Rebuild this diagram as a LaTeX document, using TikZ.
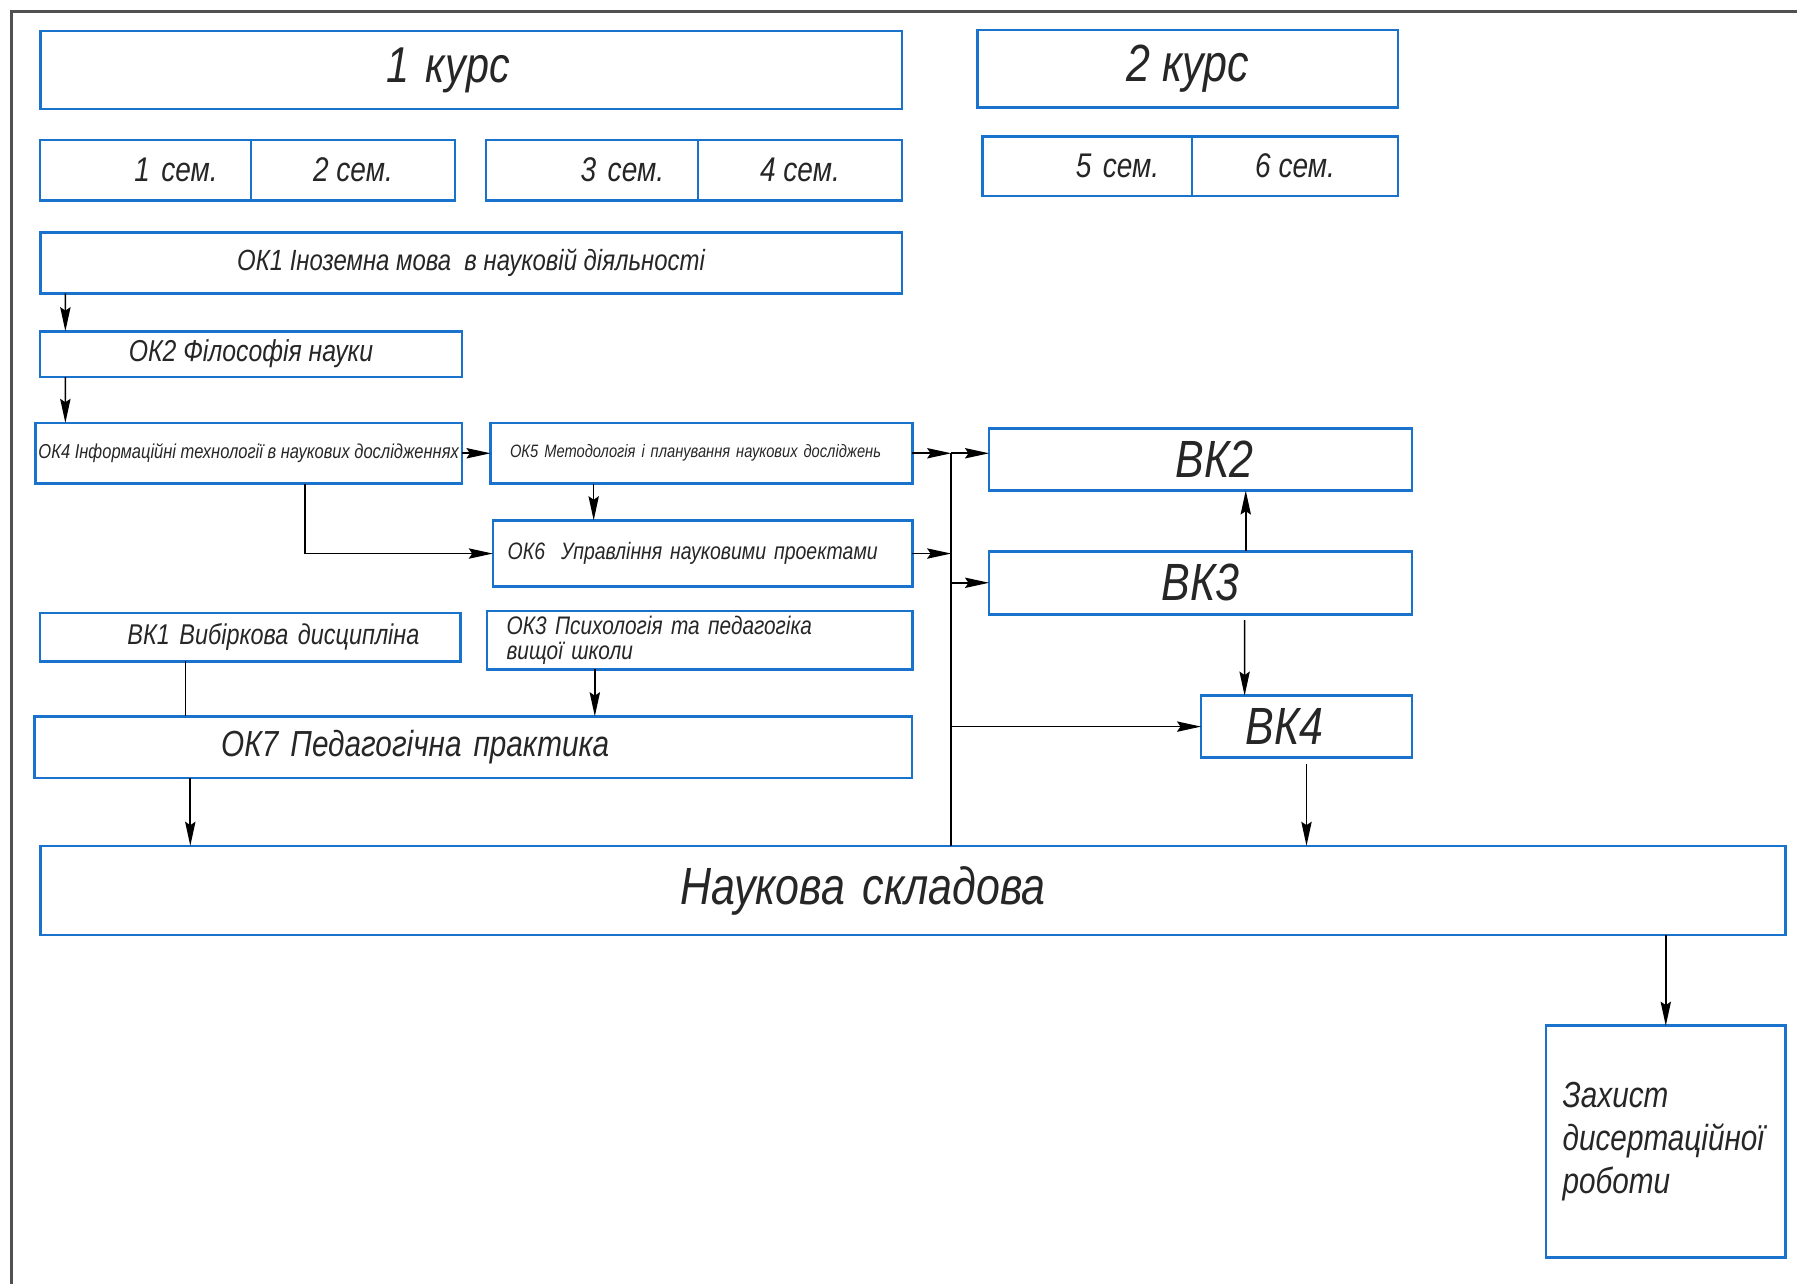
\documentclass[tikz,border=0pt]{standalone}
\usepackage{fontspec}
\setmainfont{Liberation Sans}[FakeStretch=0.82]
\usetikzlibrary{positioning,arrows.meta}

\definecolor{boxblue}{RGB}{25,115,205}
\definecolor{framegray}{RGB}{80,80,80}
\newcommand{\fz}[1]{\fontsize{#1}{#1}\selectfont\itshape}

\tikzset{
  box/.style={draw=boxblue,line width=1.3pt,inner sep=0pt,outer sep=0pt,text=black!85},
  semleft/.style={box,minimum height=1.06cm,text width=2.52cm,align=right,font=\fz{17}},
  semright/.style={box,minimum height=1.06cm,font=\fz{17}},
  link/.style={->,line width=0.8pt},
}

\begin{document}
\begin{tikzpicture}[x=0.02cm,y=-0.02cm,>={Stealth[length=0.42cm,width=0.18cm,inset=0.06cm]}]
\useasboundingbox (0,0) rectangle (1568,1120);
\draw[framegray,line width=0.04cm] (10,1120) -- (10,10) -- (1568,10);

% courses
\node[box,minimum width=15.04cm,minimum height=1.36cm,text width=2.96cm,align=left,font=\fz{25}] (kurs1) at (411,61) {1 курс};
\node[box,minimum width=7.34cm,minimum height=1.36cm,font=\fz{26}] (kurs2) at (1036.5,60) {2 курс};

% semesters
\node[semleft,minimum width=3.68cm] (sem1) at (127,148.5) {1 сем.};
\node[semright,minimum width=3.56cm,right=0pt of sem1] (sem2) {2 сем.};
\node[semleft,minimum width=3.70cm] (sem3) at (516.5,148.5) {3 сем.};
\node[semright,minimum width=3.56cm,right=0pt of sem3] (sem4) {4 сем.};
\node[semleft,minimum width=3.66cm,minimum height=1.04cm] (sem5) at (948.5,145) {5 сем.};
\node[semright,minimum width=3.60cm,minimum height=1.04cm,right=0pt of sem5] (sem6) {6 сем.};

% disciplines
\node[box,minimum width=15.04cm,minimum height=1.06cm,font=\fz{14.5}] (ok1) at (411,229.5) {ОК1 Іноземна мова\ \ в науковій діяльності};
\node[box,minimum width=7.36cm,minimum height=0.80cm,font=\fz{15}] (ok2) at (219,309) {ОК2 Філософія науки};
\node[box,minimum width=7.44cm,minimum height=1.06cm,font=\fz{10}] (ok4) at (217,395.5) {ОК4 Інформаційні технології в наукових дослідженнях};
\node[box,minimum width=7.36cm,minimum height=1.06cm,text width=6.68cm,align=left,font=\fz{8.9}] (ok5) at (612,395.5) {ОК5 Методологія і планування наукових досліджень};
\node[box,minimum width=7.32cm,minimum height=1.16cm,text width=6.8cm,align=left,font=\fz{11.8}] (ok6) at (613,483) {ОК6\ \ Управління науковими проектами};
\node[box,minimum width=7.34cm,minimum height=0.84cm,text width=5.9cm,align=right,font=\fz{14.2}] (vk1) at (218.5,556) {ВК1 Вибіркова дисципліна};
\node[box,minimum width=7.42cm,minimum height=1.02cm,text width=6.74cm,align=left,font=\fz{12.6}] (ok3) at (610.5,558.5) {ОК3 Психологія та педагогіка\\вищої школи};
\node[box,minimum width=15.32cm,minimum height=1.08cm,text width=8.8cm,align=left,font=\fz{18}] (ok7) at (413,652) {ОК7 Педагогічна практика};
\node[box,minimum width=7.38cm,minimum height=1.08cm,text width=1.86cm,align=right,font=\fz{26}] (vk2) at (1047.5,401) {ВК2};
\node[box,minimum width=7.38cm,minimum height=1.10cm,font=\fz{26}] (vk3) at (1047.5,508.5) {ВК3};
\node[box,minimum width=3.68cm,minimum height=1.08cm,text width=2.12cm,align=left,font=\fz{26}] (vk4) at (1140,634) {ВК4};
\node[box,minimum width=30.46cm,minimum height=1.56cm,text width=8.1cm,align=left,font=\fz{26}] (nauk) at (796.5,777) {Наукова складова};
\node[box,minimum width=4.18cm,minimum height=4.04cm,text width=3.6cm,align=left,font={\fontsize{18}{21.3}\selectfont\itshape}] (zakh) at (1453.5,996) {Захист\\дисертаційної\\роботи};

% links
\coordinate (bus) at (830,397);
\draw[link] ([xshift=0.44cm]ok1.south west) -- ([xshift=0.44cm]ok2.north west);
\draw[link] ([xshift=0.44cm]ok2.south west) -- ([xshift=0.52cm]ok4.north west);
\draw[link] (ok4.east) -- (ok5.west);
\draw[link] ([xshift=-1.88cm]ok5.south) -- ([xshift=-1.88cm]ok5.south |- ok6.north);
\draw[link] ([xshift=0.98cm]ok4.south) |- (ok6.west);
\draw[link] (ok5.east) -- (ok5.east -| bus);
\draw[link] (ok5.east -| bus) -- (ok5.east -| vk2.west);
\draw[link] (ok6.east) -- (ok6.east -| bus);
\draw[line width=0.8pt] (ok5.east -| bus) -- (bus |- nauk.north);
\draw[link] (vk3.west -| bus) -- (vk3.west);
\draw[link] (vk4.west -| bus) -- (vk4.west);
\draw[link] ([xshift=0.79cm]vk3.north) -- ([xshift=0.79cm]vk2.south);
\draw[link,shorten <=0.1cm] ([xshift=0.77cm]vk3.south) -- ([xshift=-1.08cm]vk4.north);
\draw[link,shorten <=0.12cm] (vk4.south) -- (vk4.south |- nauk.north);
\draw[line width=0.8pt] ([xshift=-1.13cm]vk1.south) -- ([xshift=-1.13cm]vk1.south |- ok7.north);
\draw[link] ([xshift=-1.83cm]ok3.south) -- ([xshift=-1.83cm]ok3.south |- ok7.north);
\draw[link] ([xshift=-4.94cm]ok7.south) -- ([xshift=-4.94cm]ok7.south |- nauk.north);
\draw[link] (zakh.north |- nauk.south) -- (zakh.north);
\end{tikzpicture}
\end{document}
